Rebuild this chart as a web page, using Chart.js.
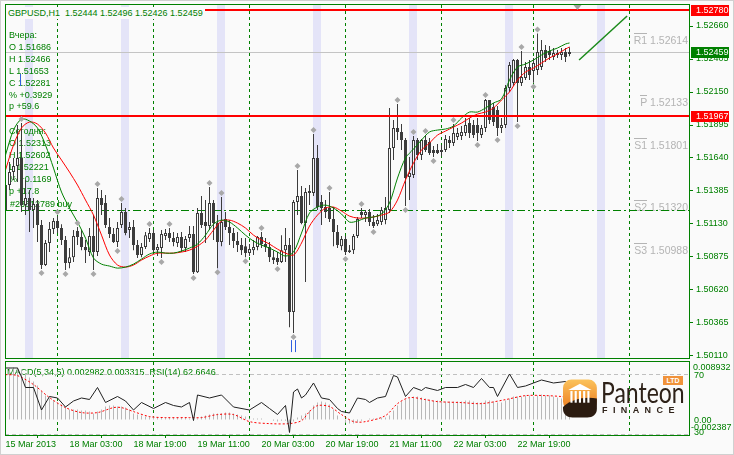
<!DOCTYPE html>
<html>
<head>
<meta charset="utf-8">
<script src="https://cdn.jsdelivr.net/npm/chart.js@4.4.1/dist/chart.umd.min.js"></script>
<style>
html,body{margin:0;padding:0;background:#fafafa;}
#wrap{position:relative;width:734px;height:455px;overflow:hidden;background:#fafafa;}
canvas{position:absolute;left:0;top:0;}
#bg{z-index:0}
#cm{z-index:2}
#cs{z-index:3}
.t{position:absolute;font-family:"Liberation Sans",Arial,sans-serif;font-size:9px;line-height:12px;color:#008000;white-space:pre;z-index:1;}
.pv{position:absolute;font-family:"Liberation Sans",Arial,sans-serif;font-size:10.5px;line-height:12px;color:#b4b4b4;white-space:pre;z-index:1;}
.pv span{border-top:1px solid #b4b4b4;}
#hdr{z-index:5;background:#fafafa;padding:0 2px;}
.ax{z-index:5}
#frame{position:absolute;left:0;top:0;width:734px;height:455px;box-sizing:border-box;border:1px solid #d0d0d0;z-index:9;pointer-events:none;}
#logo{position:absolute;left:560px;top:374px;width:126px;height:46px;z-index:6;}
</style>
</head>
<body>
<div id="wrap">
<canvas id="bg" width="734" height="455"></canvas>
<canvas id="cm" width="734" height="455"></canvas>
<canvas id="cs" width="734" height="455"></canvas>
<div id="logo">
  <svg width="36" height="40" viewBox="0 0 34 37" style="position:absolute;left:3px;top:5px">
    <defs><linearGradient id="og" x1="0" y1="0" x2="0" y2="1"><stop offset="0" stop-color="#fbc35c"/><stop offset="1" stop-color="#ec7a1c"/></linearGradient></defs>
    <rect x="0" y="0" width="32" height="29" rx="8" fill="url(#og)"/>
    <path d="M0 26 C8 18 22 16 32 18 L32 28 C32 33 28 36 23 36 L9 36 C4 36 0 33 0 28 Z" fill="#2b1b10"/>
    <polygon points="5,10 16,4 27,10" fill="#ffffff"/>
    <rect x="7" y="11" width="2" height="11" fill="#fff"/><rect x="11" y="11" width="2" height="11" fill="#fff"/>
    <rect x="15" y="11" width="2" height="11" fill="#fff"/><rect x="19" y="11" width="2" height="11" fill="#fff"/>
    <rect x="23" y="11" width="2" height="11" fill="#fff"/>
  </svg>
  <div style="position:absolute;left:41px;top:3px;font:400 28px Lato,'Open Sans',sans-serif;color:#2e2219;transform:scaleX(0.82);transform-origin:left top;line-height:30px;">Panteon</div>
  <div style="position:absolute;left:42px;top:31px;font:700 9px 'Liberation Sans',Arial,sans-serif;letter-spacing:5.4px;color:#2e2219;line-height:10px;">FINANCE</div>
  <div style="position:absolute;left:103px;top:2px;width:20px;height:9px;background:#f0923a;color:#fff;font:700 7px 'Liberation Sans',Arial,sans-serif;line-height:9px;text-align:center;">LTD</div>
</div>
<div id="frame"></div>
</div>
<script>
// ---------------- DATA ----------------
const symbol = "GBPUSD,H1";
const tickIdx = [0,16,32,48,64,80,96,112,128];
const tickLabels = ["15 Mar 2013","18 Mar 03:00","18 Mar 19:00","19 Mar 11:00","20 Mar 03:00","20 Mar 19:00","21 Mar 11:00","22 Mar 03:00","22 Mar 19:00"];
const priceTicks = [1.50110,1.50365,1.50620,1.50875,1.51130,1.51385,1.51640,1.51895,1.52150,1.52405,1.52660];

const opens = [1.51238,1.51431,1.51531,1.51578,1.51640,1.51276,1.51330,1.51238,1.51284,1.51122,
 1.50813,1.50983,1.51091,1.51153,1.51099,1.51006,1.50828,1.50874,1.51075,1.51029,
 1.50952,1.50913,1.51037,1.50913,1.51330,1.51292,1.51106,1.51052,1.50990,1.51122,
 1.51222,1.51083,1.51106,1.50967,1.50890,1.50952,1.51014,1.51060,1.50928,1.50944,
 1.51037,1.51060,1.51021,1.50983,1.51029,1.50944,1.51021,1.51052,1.50758,1.51215,
 1.51145,1.51114,1.51292,1.51137,1.50990,1.51168,1.51106,1.51060,1.50998,1.50967,
 1.50959,1.50905,1.50928,1.50952,1.51029,1.50975,1.50952,1.50874,1.50867,1.50836,
 1.50928,1.50967,1.50449,1.51300,1.51346,1.51137,1.51369,1.51369,1.51640,1.51300,
 1.51261,1.51253,1.51168,1.51068,1.50959,1.51014,1.50913,1.50928,1.51037,1.51222,
 1.51199,1.51222,1.51145,1.51129,1.51145,1.51160,1.51238,1.51717,1.51872,1.51841,
 1.51779,1.51493,1.51508,1.51779,1.51663,1.51779,1.51763,1.51701,1.51701,1.51686,
 1.51701,1.51779,1.51756,1.51802,1.51810,1.51833,1.51910,1.51895,1.51895,1.51817,
 1.51872,1.52088,1.52034,1.52011,1.51872,1.51895,1.52181,1.52219,1.52397,1.52219,
 1.52258,1.52343,1.52313,1.52320,1.52343,1.52474,1.52467,1.52420,1.52436,1.52436,
 1.52459,1.52444];
const highs = [1.51508,1.51609,1.51640,1.51895,1.51910,1.51470,1.51392,1.51330,1.51315,1.51160,
 1.51006,1.51145,1.51176,1.51191,1.51129,1.51037,1.50944,1.51083,1.51106,1.51083,
 1.51006,1.51099,1.51199,1.51408,1.51392,1.51354,1.51176,1.51099,1.51145,1.51292,
 1.51253,1.51145,1.51160,1.51006,1.50983,1.51068,1.51099,1.51083,1.50975,1.51083,
 1.51091,1.51099,1.51068,1.51060,1.51068,1.51037,1.51114,1.51114,1.51253,1.51346,
 1.51315,1.51415,1.51315,1.51199,1.51338,1.51222,1.51160,1.51099,1.51068,1.51021,
 1.51021,1.50975,1.51006,1.51037,1.51068,1.51021,1.50990,1.50928,1.50913,1.51044,
 1.51099,1.51021,1.51315,1.51547,1.51423,1.51408,1.51431,1.51825,1.51740,1.51354,
 1.51315,1.51377,1.51261,1.51122,1.51037,1.51037,1.50967,1.51052,1.51184,1.51253,
 1.51238,1.51245,1.51199,1.51207,1.51261,1.51338,1.52026,1.51933,1.52057,1.51902,
 1.51794,1.51647,1.51810,1.51794,1.51787,1.51817,1.51794,1.51732,1.51748,1.51740,
 1.51817,1.51810,1.51902,1.51872,1.51887,1.51949,1.51949,1.51933,1.51949,1.51895,
 1.52096,1.52088,1.52065,1.52042,1.51949,1.52204,1.52382,1.52405,1.52405,1.52466,
 1.52382,1.52397,1.52413,1.52602,1.52552,1.52513,1.52505,1.52490,1.52474,1.52490,
 1.52490,1.52496];
const lows = [1.51215,1.51392,1.51470,1.51454,1.51222,1.51199,1.51068,1.51099,1.50990,1.50782,
 1.50805,1.50913,1.51052,1.51060,1.50967,1.50774,1.50789,1.50836,1.50967,1.50928,
 1.50828,1.50882,1.50774,1.50882,1.51199,1.51099,1.51021,1.50983,1.50952,1.51099,
 1.51044,1.51021,1.50928,1.50867,1.50874,1.50936,1.50990,1.50913,1.50882,1.50867,
 1.51006,1.50990,1.50959,1.50952,1.50913,1.50913,1.50990,1.50743,1.50751,1.51099,
 1.50983,1.51083,1.51006,1.50789,1.50959,1.51083,1.50967,1.50944,1.50913,1.50890,
 1.50874,1.50882,1.50890,1.50928,1.50944,1.50913,1.50836,1.50820,1.50813,1.50828,
 1.50836,1.50333,1.50287,1.51199,1.51129,1.50681,1.51276,1.51346,1.51238,1.51122,
 1.51176,1.51145,1.50959,1.50944,1.50928,1.50890,1.50905,1.50898,1.51021,1.51176,
 1.51145,1.51114,1.51099,1.51114,1.51122,1.51129,1.51215,1.51624,1.51779,1.51701,
 1.51269,1.51315,1.51485,1.51624,1.51624,1.51686,1.51663,1.51647,1.51671,1.51653,
 1.51686,1.51717,1.51732,1.51779,1.51779,1.51810,1.51794,1.51794,1.51771,1.51794,
 1.51841,1.51902,1.51887,1.51810,1.51833,1.51872,1.52150,1.52196,1.51918,1.52196,
 1.52243,1.52243,1.52221,1.52281,1.52320,1.52382,1.52397,1.52397,1.52413,1.52397,
 1.52382,1.52426];
const closes = [1.51431,1.51531,1.51578,1.51640,1.51276,1.51330,1.51238,1.51284,1.51122,1.50813,
 1.50983,1.51091,1.51153,1.51099,1.51006,1.50828,1.50874,1.51037,1.51029,1.50952,
 1.50928,1.51037,1.50913,1.51330,1.51276,1.51122,1.51052,1.50990,1.51099,1.51222,
 1.51060,1.51106,1.50967,1.50890,1.50952,1.51044,1.51060,1.50928,1.50952,1.51052,
 1.51060,1.51021,1.50990,1.51029,1.50944,1.51014,1.51052,1.50758,1.51215,1.51122,
 1.51114,1.51292,1.51137,1.50990,1.51145,1.51106,1.51060,1.50998,1.50967,1.50928,
 1.50905,1.50936,1.50952,1.51029,1.50975,1.50952,1.50874,1.50851,1.50836,1.50928,
 1.50967,1.50449,1.51300,1.51346,1.51137,1.51377,1.51385,1.51640,1.51261,1.51253,
 1.51222,1.51168,1.51068,1.50967,1.51014,1.50913,1.50928,1.51037,1.51168,1.51199,
 1.51222,1.51145,1.51114,1.51160,1.51238,1.51253,1.51717,1.51872,1.51841,1.51779,
 1.51485,1.51524,1.51779,1.51663,1.51779,1.51701,1.51678,1.51678,1.51678,1.51701,
 1.51787,1.51756,1.51833,1.51833,1.51841,1.51895,1.51833,1.51817,1.51833,1.51872,
 1.52088,1.51933,1.51918,1.51872,1.51895,1.52181,1.52359,1.52397,1.52219,1.52266,
 1.52343,1.52281,1.52374,1.52459,1.52474,1.52413,1.52436,1.52451,1.52451,1.52459,
 1.52420,1.52459];

const maIdx = [0,2,4,6,8,10,12,14,16,18,20,22,24,26,28,30,32,34,36,38,40,42,44,46,48,50,52,54,56,58,60,62,64,66,68,70,
 72,74,76,78,80,82,84,86,88,90,92,94,96,98,100,102,104,106,108,110,112,114,116,118,120,122,124,126,128,130,132,134,136,138,140,141];
const maFast = [1.51663,1.51856,1.51941,1.51926,1.51872,1.51740,1.51562,1.51377,1.51253,1.51145,
 1.51021,1.50867,1.50820,1.50805,1.50789,1.50797,1.50820,1.50859,1.50898,1.50913,
 1.50905,1.50905,1.50921,1.50944,1.50975,1.51044,1.51129,1.51160,1.51145,1.51099,
 1.51044,1.50998,1.50967,1.50944,1.50913,1.50882,1.50913,1.51060,1.51215,1.51261,
 1.51276,1.51253,1.51207,1.51145,1.51153,1.51176,1.51184,1.51207,1.51292,1.51485,
 1.51640,1.51709,1.51779,1.51841,1.51856,1.51864,1.51887,1.51949,1.51995,1.51995,
 1.52026,1.52065,1.52096,1.52243,1.52343,1.52366,1.52397,1.52436,1.52467,1.52490,
 1.52521,1.52529];
const maSlow = [1.51547,1.51740,1.51872,1.51918,1.51902,1.51833,1.51717,1.51624,1.51531,1.51431,
 1.51315,1.51199,1.51044,1.50890,1.50813,1.50797,1.50813,1.50851,1.50882,1.50905,
 1.50905,1.50905,1.50913,1.50928,1.50959,1.51006,1.51083,1.51153,1.51160,1.51137,
 1.51099,1.51044,1.51006,1.50975,1.50936,1.50905,1.50890,1.50983,1.51114,1.51199,
 1.51253,1.51261,1.51230,1.51191,1.51176,1.51176,1.51184,1.51199,1.51222,1.51315,
 1.51470,1.51601,1.51701,1.51756,1.51817,1.51848,1.51879,1.51910,1.51949,1.51980,
 1.51995,1.52026,1.52088,1.52150,1.52243,1.52304,1.52335,1.52374,1.52413,1.52444,
 1.52482,1.52498];

const fractalUp = [4,13,18,23,29,36,41,51,54,64,73,77,81,89,98,102,105,112,120,129,133];
const fractalDown = [9,15,22,28,39,47,53,60,68,72,85,92,100,107,118,123,128,132];

const macd = [0.00775,0.00791,0.00806,0.00806,0.00775,0.00713,0.00651,0.00589,0.00527,0.00434,
 0.00372,0.00326,0.00295,0.00264,0.00233,0.00186,0.00155,0.00155,0.00155,0.00140,
 0.00140,0.00124,0.00093,0.00124,0.00155,0.00202,0.00217,0.00217,0.00202,0.00202,
 0.00186,0.00155,0.00093,0.00078,0.00062,0.00047,0.00047,0.00047,0.00031,0.00031,
 0.00031,0.00031,0.00031,0.00031,0.00031,0.00031,0.00016,-0.00016,0.00016,0.00047,
 0.00062,0.00078,0.00093,0.00093,0.00093,0.00109,0.00109,0.00093,0.00078,0.00062,
 0.00047,0.00016,0.00016,0.00016,0.00016,0.00000,0.00000,-0.00016,-0.00031,-0.00016,
 -0.00016,-0.00062,-0.00031,0.00031,0.00062,0.00093,0.00140,0.00217,0.00264,0.00279,
 0.00264,0.00233,0.00155,0.00062,0.00000,-0.00047,-0.00062,-0.00062,-0.00047,-0.00016,
 0.00000,0.00016,0.00016,0.00016,0.00031,0.00031,0.00062,0.00140,0.00217,0.00279,
 0.00310,0.00341,0.00357,0.00357,0.00341,0.00326,0.00310,0.00295,0.00295,0.00279,
 0.00279,0.00279,0.00279,0.00279,0.00279,0.00295,0.00295,0.00279,0.00264,0.00264,
 0.00295,0.00295,0.00279,0.00264,0.00264,0.00295,0.00326,0.00357,0.00357,0.00357,
 0.00372,0.00372,0.00357,0.00372,0.00388,0.00372,0.00372,0.00357,0.00341,0.00326,
 0.00310,0.002982];
const sigIdx = [0,3,7,11,15,19,23,27,29,32,36,40,46,49,53,57,61,66,71,74,76,78,81,84,87,90,95,98,101,105,108,114,119,125,130,135,139,141];
const sigVal = [0.00698,0.00682,0.00543,0.00341,0.00186,0.00109,0.00109,0.00186,0.00186,0.00124,0.00047,0.00031,0.00031,0.00031,0.00078,0.00078,-0.00031,-0.00062,-0.00062,-0.00016,0.00124,0.00217,0.00202,0.00078,-0.00031,-0.00031,0.00062,0.00248,0.00341,0.00310,0.00279,0.00264,0.00248,0.00310,0.00372,0.00372,0.00357,0.003315];
const rsiIdx = [0,3,4,5,7,9,11,13,15,17,19,21,23,25,28,30,32,34,37,40,42,44,46,47,48,51,54,57,61,64,66,68,70,71,72,73,74,75,77,79,81,83,84,86,88,90,91,93,95,97,98,100,102,104,105,108,110,113,115,117,119,121,122,123,126,128,130,132,134,137,140,141];
const rsiVal = [74,74,68,61,61,46,55,54,48,52,54,53,61,51,55,52,46,51,47,51,49,48,51,39,56,54,56,48,46,51,47,43,49,31,58,60,54,56,64,54,53,47,45,44,54,53,51,54,55,69,68,55,61,59,61,59,61,61,63,61,67,61,61,55,70,61,62,64,66,64,65,62.66];

const bandStarts = [5,29,53,77,101,125,148];
const separators = [13,37,61,85,109,132,156];
const redLevels = [1.52780, 1.51967];
const bidPrice = 1.52459;
const orderPrice = 1.51238;
const orderText = "#23312789 buy";
const pivotNames = ["R1","P","S1","S2","S3"];
const pivotVals = [1.52614,1.52133,1.51801,1.51320,1.50988];
const trendIdx = [143.4, 155.4];
const trendVal = [1.52397, 1.52737];
const shiftIdx = 143;
const arrowIdx = 72;
const yesterday = {O:"1.51686",H:"1.52466",L:"1.51653",C:"1.52281",pct:"+0.3929",p:"+59.6"};
const today = {O:"1.52313",H:"1.52602",L:"1.52221",pct:"+0.1169",p:"+17.8"};
const macdTitle = "MACD(5,34,5) 0.002982 0.003315  RSI(14) 62.6646";
const macdMin = -0.002387, macdMax = 0.008932;
const rsiLevels = [70, 30];

// ---------------- SETUP ----------------
const FONT = '"Liberation Sans", Arial, sans-serif';
Chart.defaults.font.family = FONT;
Chart.defaults.font.size = 9;
const GREEN = '#008000', DARK = '#3c3c3c', BG = '#fafafa';
const xMin = -0.125, xMax = 171.125;
const yMin = 1.500945, yMax = 1.528223;
const wrap = document.getElementById('wrap');

function addText(cls, txt, left, top, extra) {
  const d = document.createElement('div');
  d.className = cls; d.textContent = txt;
  d.style.left = left + 'px'; d.style.top = top + 'px';
  if (extra) Object.assign(d.style, extra);
  wrap.appendChild(d);
  return d;
}
const last = opens.length - 1;
const hdr = addText('t', symbol + '  ' + [opens[last],highs[last],lows[last],closes[last]].map(v=>v.toFixed(5)).join(' '), 6, 7);
hdr.id = 'hdr';
const info = ["Вчера:","O "+yesterday.O,"H "+yesterday.H,"L "+yesterday.L,"C "+yesterday.C,"% "+yesterday.pct,"p "+yesterday.p];
info.forEach((s,k)=>addText('t', s, 9, 29 + k*11.9));
const info2 = ["Сегодня:","O "+today.O,"H "+today.H,"L "+today.L,"% "+today.pct,"p "+today.p];
info2.forEach((s,k)=>addText('t', s, 9, 125 + k*12));
addText('t', macdTitle, 7, 366);
const blueMark = document.createElement('div');
Object.assign(blueMark.style,{position:'absolute',left:'20px',top:'74px',width:'1px',height:'12px',background:'#3060e0',zIndex:1});
wrap.appendChild(blueMark);

// ---------------- MAIN CHART ----------------
const mainDecor = {
  id: 'mainDecor',
  beforeDatasetsDraw(chart) {
    const {ctx, chartArea: a, scales: {x, y}} = chart;
    const b = document.getElementById('bg').getContext('2d');
    b.clearRect(0, 0, 734, 455);
    b.fillStyle = '#e4e4f8';
    bandStarts.forEach(i => {
      const x0 = Math.round(x.getPixelForValue(i) - 0.5), x1 = Math.round(x.getPixelForValue(i + 2) - 0.5);
      b.fillRect(x0, a.top, x1 - x0, a.bottom - a.top);
    });
    b.strokeStyle = GREEN; b.lineWidth = 1; b.setLineDash([3, 3]);
    separators.forEach(i => {
      const px = Math.floor(x.getPixelForValue(i)) + 0.5;
      b.beginPath(); b.moveTo(px, a.top); b.lineTo(px, a.bottom); b.stroke();
    });
    ctx.save();
    ctx.beginPath(); ctx.rect(a.left, a.top, a.right - a.left, a.bottom - a.top); ctx.clip();
    let py = Math.round(y.getPixelForValue(bidPrice)) + 0.5;
    ctx.strokeStyle = '#c4c4c4'; ctx.lineWidth = 1;
    ctx.beginPath(); ctx.moveTo(a.left, py); ctx.lineTo(a.right, py); ctx.stroke();
    py = Math.round(y.getPixelForValue(orderPrice)) + 0.5;
    ctx.strokeStyle = GREEN; ctx.setLineDash([8, 3, 2, 3]);
    ctx.beginPath(); ctx.moveTo(a.left, py); ctx.lineTo(a.right, py); ctx.stroke();
    ctx.restore();
  },
  afterDatasetsDraw(chart) {
    const {ctx, chartArea: a, scales: {x, y}} = chart;
    ctx.save();
    ctx.beginPath(); ctx.rect(a.left, a.top, a.right - a.left, a.bottom - a.top); ctx.clip();
    ctx.strokeStyle = '#ff0000'; ctx.lineWidth = 2;
    redLevels.forEach(v => {
      const py = Math.round(y.getPixelForValue(v));
      ctx.beginPath(); ctx.moveTo(a.left, py); ctx.lineTo(a.right, py); ctx.stroke();
    });
    ctx.fillStyle = '#a8a8a8';
    const diamond = (cx, cy) => { ctx.beginPath(); ctx.moveTo(cx, cy - 3); ctx.lineTo(cx + 3, cy); ctx.lineTo(cx, cy + 3); ctx.lineTo(cx - 3, cy); ctx.closePath(); ctx.fill(); };
    fractalUp.forEach(i => diamond(x.getPixelForValue(i), y.getPixelForValue(highs[i]) - 4));
    fractalDown.forEach(i => diamond(x.getPixelForValue(i), y.getPixelForValue(lows[i]) + 4));
    ctx.strokeStyle = '#1a8a1a'; ctx.lineWidth = 1.5;
    ctx.beginPath();
    ctx.moveTo(x.getPixelForValue(trendIdx[0]), y.getPixelForValue(trendVal[0]));
    ctx.lineTo(x.getPixelForValue(trendIdx[1]), y.getPixelForValue(trendVal[1]));
    ctx.stroke();
    ctx.strokeStyle = '#3060e0'; ctx.lineWidth = 1;
    const ax = Math.floor(x.getPixelForValue(arrowIdx)) + 0.5, ay = y.getPixelForValue(lows[arrowIdx]);
    [ax - 2, ax + 2].forEach(px => { ctx.beginPath(); ctx.moveTo(px, ay + 7); ctx.lineTo(px, ay + 19); ctx.stroke(); });
    const sx = x.getPixelForValue(shiftIdx);
    ctx.fillStyle = '#a0a0a0';
    ctx.beginPath(); ctx.moveTo(sx - 4, a.top); ctx.lineTo(sx + 4, a.top); ctx.lineTo(sx, a.top + 5); ctx.closePath(); ctx.fill();
    ctx.restore();
  },
  afterDraw(chart) {
    const {ctx, chartArea: a, scales: {y}} = chart;
    ctx.save();
    ctx.strokeStyle = GREEN; ctx.lineWidth = 1;
    ctx.strokeRect(a.left + 0.5, a.top - 0.5, a.right - a.left - 1, a.bottom - a.top + 1);
    const boxes = [[redLevels[0], '#ff0000'], [redLevels[1], '#ff0000'], [bidPrice, '#008000']];
    ctx.font = '9px ' + FONT; ctx.textBaseline = 'middle'; ctx.textAlign = 'left';
    boxes.forEach(([v, c]) => {
      const py = Math.round(y.getPixelForValue(v));
      ctx.fillStyle = c; ctx.fillRect(a.right + 1, py - 5, 38, 11);
      ctx.fillStyle = '#ffffff'; ctx.fillText(v.toFixed(5), a.right + 6, py + 0.5);
    });
    ctx.restore();
  }
};

const mainChart = new Chart(document.getElementById('cm'), {
  type: 'bar',
  data: {
    datasets: [
      {type: 'line', label: 'MA fast', data: maIdx.map((i, k) => ({x: i, y: maFast[k]})), borderColor: '#008000', borderWidth: 1, pointRadius: 0, tension: 0.3, order: 0},
      {type: 'line', label: 'MA slow', data: maIdx.map((i, k) => ({x: i, y: maSlow[k]})), borderColor: '#ff0000', borderWidth: 1, pointRadius: 0, tension: 0.3, order: 1},
      {type: 'bar', label: 'body', data: opens.map((o, i) => ({x: i, y: [o, closes[i]]})),
        backgroundColor: opens.map((o, i) => closes[i] >= o ? BG : DARK), borderColor: DARK, borderWidth: 1, borderSkipped: false,
        barThickness: 3, grouped: false, minBarLength: 1, inflateAmount: 0, order: 2},
      {type: 'bar', label: 'wick', data: lows.map((l, i) => ({x: i, y: [l, highs[i]]})),
        backgroundColor: DARK, borderWidth: 0, barThickness: 1, grouped: false, inflateAmount: 0, order: 3}
    ]
  },
  options: {
    responsive: false, animation: false, events: [],
    layout: {padding: {left: 5, top: 5, right: 0, bottom: 97}},
    plugins: {legend: {display: false}, tooltip: {enabled: false}},
    scales: {
      x: {type: 'linear', min: xMin, max: xMax, offset: false, display: false},
      y: {type: 'linear', position: 'right', min: yMin, max: yMax, beginAtZero: false,
        afterBuildTicks: s => { s.ticks = priceTicks.map(v => ({value: v})); },
        afterFit: s => { s.width = 44; s.paddingTop = 0; s.paddingBottom = 0; },
        ticks: {color: GREEN, padding: 3, font: {size: 9}, callback: v => Number(v).toFixed(5)},
        grid: {drawOnChartArea: false, drawTicks: true, tickLength: 3, color: GREEN},
        border: {display: false}}
    }
  },
  plugins: [mainDecor]
});

pivotNames.forEach((n, k) => {
  const py = mainChart.scales.y.getPixelForValue(pivotVals[k]);
  const d = document.createElement('div');
  d.className = 'pv';
  d.innerHTML = '<span>' + n + '</span> ' + pivotVals[k].toFixed(5);
  d.style.right = (734 - 688) + 'px'; d.style.top = (py + 2) + 'px';
  wrap.appendChild(d);
});
addText('t', orderText, 10, mainChart.scales.y.getPixelForValue(orderPrice) - 12);

// ---------------- SUB CHART ----------------
const subDecor = {
  id: 'subDecor',
  beforeDatasetsDraw(chart) {
    const {ctx, chartArea: a, scales: {x, rsi}} = chart;
    ctx.save();
    ctx.strokeStyle = GREEN; ctx.lineWidth = 1; ctx.setLineDash([3, 3]);
    separators.forEach(i => {
      const px = Math.floor(x.getPixelForValue(i)) + 0.5;
      ctx.beginPath(); ctx.moveTo(px, a.top); ctx.lineTo(px, a.bottom); ctx.stroke();
    });
    ctx.strokeStyle = '#c0c0c0'; ctx.setLineDash([4, 3]);
    rsiLevels.forEach(v => {
      const py = Math.round(rsi.getPixelForValue(v)) + 0.5;
      ctx.beginPath(); ctx.moveTo(a.left, py); ctx.lineTo(a.right, py); ctx.stroke();
    });
    ctx.restore();
  },
  afterDraw(chart) {
    const {ctx, chartArea: a} = chart;
    ctx.save();
    ctx.strokeStyle = GREEN; ctx.lineWidth = 1;
    ctx.strokeRect(a.left + 0.5, a.top - 0.5, a.right - a.left - 1, a.bottom - a.top + 1);
    ctx.restore();
  }
};

const subChart = new Chart(document.getElementById('cs'), {
  type: 'bar',
  data: {
    datasets: [
      {type: 'line', label: 'RSI', data: rsiIdx.map((i, k) => ({x: i, y: rsiVal[k]})), yAxisID: 'rsi', borderColor: '#202020', borderWidth: 1, pointRadius: 0, tension: 0, order: 0},
      {type: 'line', label: 'Signal', data: sigIdx.map((i, k) => ({x: i, y: sigVal[k]})), yAxisID: 'y', borderColor: '#ff0000', borderWidth: 1, borderDash: [2, 2], pointRadius: 0, tension: 0.3, order: 1},
      {type: 'bar', label: 'MACD', data: macd.map((v, i) => ({x: i, y: v})), yAxisID: 'y', backgroundColor: '#b8b8b8', barThickness: 1, grouped: false, inflateAmount: 0, order: 2}
    ]
  },
  options: {
    responsive: false, animation: false, events: [],
    layout: {padding: {left: 5, top: 362, right: 0, bottom: 0}},
    plugins: {legend: {display: false}, tooltip: {enabled: false}},
    scales: {
      x: {type: 'linear', min: xMin, max: xMax, offset: false,
        afterBuildTicks: s => { s.ticks = tickIdx.map(v => ({value: v})); },
        afterFit: s => { s.height = 20; s.paddingLeft = 0; s.paddingRight = 0; },
        ticks: {color: GREEN, padding: 1, align: 'start', autoSkip: false, maxRotation: 0, font: {size: 9},
          callback: (v, k) => tickLabels[k]},
        grid: {drawOnChartArea: false, drawTicks: true, tickLength: 3, color: GREEN},
        border: {display: false}},
      y: {type: 'linear', position: 'right', min: macdMin, max: macdMax, beginAtZero: false,
        afterFit: s => { s.width = 44; s.paddingTop = 0; s.paddingBottom = 0; },
        ticks: {display: false}, grid: {display: false}, border: {display: false}},
      rsi: {type: 'linear', axis: 'y', position: 'right', min: 29.333, max: 78, display: false}
    }
  },
  plugins: [subDecor]
});

const sy = subChart.scales.y, sr = subChart.scales.rsi;
const axLbl = (txt, top, left) => { const d = addText('t ax', txt, left, top); d.style.zIndex = 5; };
axLbl(macdMax.toFixed(6), sy.getPixelForValue(macdMax) - 1, 693);
axLbl(String(rsiLevels[0]), sr.getPixelForValue(rsiLevels[0]) - 5, 694);
axLbl('0.00', sy.getPixelForValue(0) - 6, 694);
axLbl(macdMin.toFixed(6), sy.getPixelForValue(macdMin) - 14, 691);
axLbl(String(rsiLevels[1]), sr.getPixelForValue(rsiLevels[1]) - 8, 694);
</script>
</body>
</html>
